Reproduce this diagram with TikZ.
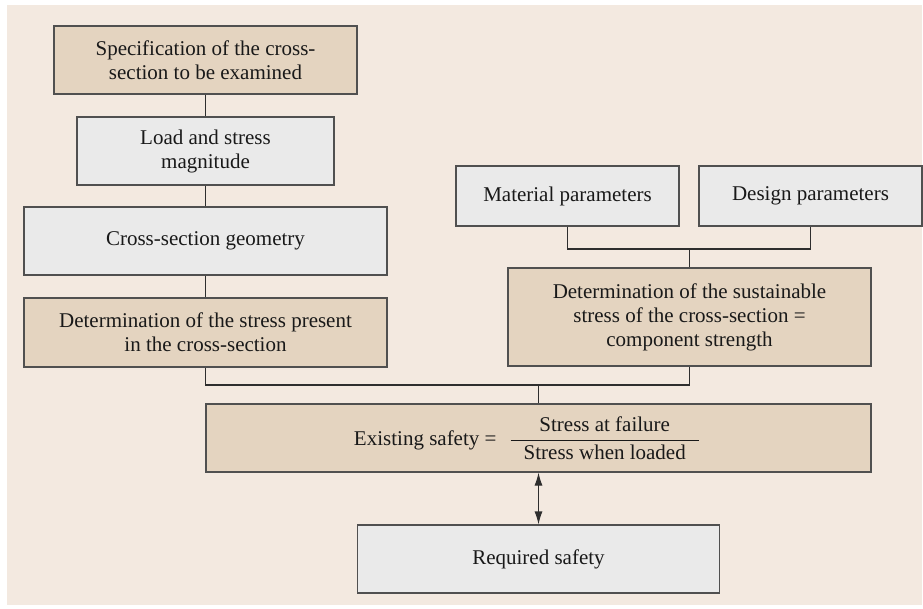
\documentclass[tikz,border=0pt]{standalone}
\usepackage{fontspec}
\setmainfont{Liberation Serif}
\usetikzlibrary{arrows.meta}

\definecolor{pagebg}{HTML}{F3E9E0}
\definecolor{tanfill}{HTML}{E4D4C0}
\definecolor{greyfill}{HTML}{EAEAEA}
\definecolor{edgecol}{HTML}{505050}
\definecolor{linecol}{HTML}{2E2E2E}

\begin{document}
\begin{tikzpicture}[x=1pt,y=-1pt,
  every node/.style={font=\fontsize{21}{24}\selectfont, text=black!90, align=center, inner sep=0pt},
  boxbase/.style={draw=edgecol, line width=1.1pt, rectangle},
  tanbox/.style={boxbase, fill=tanfill},
  greybox/.style={boxbase, fill=greyfill},
  link/.style={draw=linecol, line width=1.1pt},
  dblarrow/.style={link, {Latex[length=13pt,width=8pt]}-{Latex[length=13pt,width=8pt]}}]

  % canvas and background panel
  \useasboundingbox (0,0) rectangle (923,609);
  \fill[pagebg] (7,5) rectangle (922,605);

  % left column
  \node[tanbox, minimum width=303pt, minimum height=68pt] (spec) at (205.5,60)
    {Specification of the cross-\\section to be examined};
  \node[greybox, minimum width=257pt, minimum height=68pt] (load) at (205.5,151)
    {Load and stress\\magnitude};
  \node[greybox, minimum width=363pt, minimum height=68pt] (geom) at (205.5,241)
    {Cross-section geometry};
  \node[tanbox, minimum width=363pt, minimum height=69pt] (present) at (205.5,332.5)
    {Determination of the stress present\\in the cross-section};

  % right column
  \node[greybox, minimum width=223pt, minimum height=60pt] (mat) at (567.5,196)
    {Material parameters};
  \node[greybox, minimum width=223pt, minimum height=60pt] (des) at (810.5,196)
    {Design parameters};
  \node[tanbox, minimum width=363pt, minimum height=98pt] (sust) at (689.5,317)
    {Determination of the sustainable\\stress of the cross-section =\\component strength};

  % result
  \node[tanbox, minimum width=665pt, minimum height=68pt] (exist) at (538.5,438)
    {Existing safety =\hspace{13pt}$\displaystyle\frac{\mbox{Stress at failure}}{\mbox{\hspace{13pt}Stress when loaded\hspace{13pt}}}$\hspace{23pt}};
  \node[greybox, minimum width=362pt, minimum height=68pt] (req) at (538.5,559)
    {Required safety};

  % junction points
  \coordinate (jparam) at (689.5,249);
  \coordinate (jres) at (538.5,385);

  % connectors
  \draw[link] (spec.south) -- (load.north);
  \draw[link] (load.south) -- (geom.north);
  \draw[link] (geom.south) -- (present.north);
  \draw[link] (mat.south) |- (jparam) -| (des.south);
  \draw[link] (jparam) -- (sust.north);
  \draw[link] (present.south) |- (jres) -| (sust.south);
  \draw[link] (jres) -- (exist.north);
  \draw[dblarrow] (exist.south) -- (req.north);
\end{tikzpicture}
\end{document}
